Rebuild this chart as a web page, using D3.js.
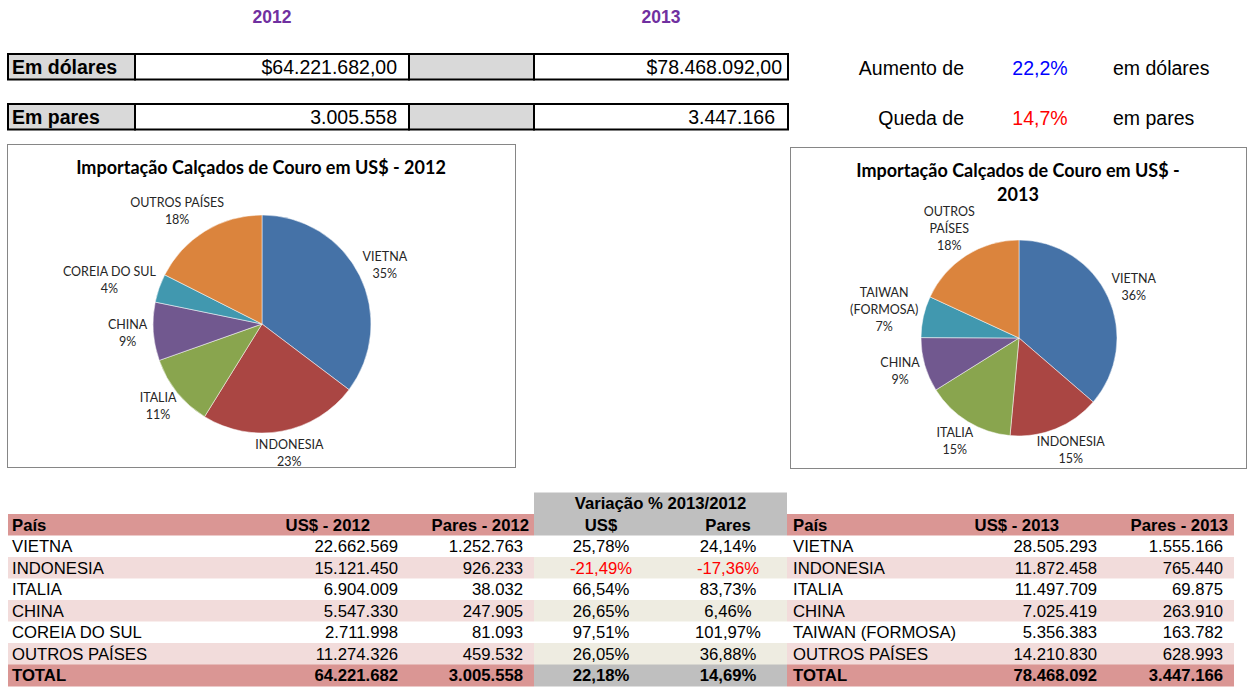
<!DOCTYPE html>
<html>
<head>
<meta charset="utf-8">
<script src="https://cdn.jsdelivr.net/npm/d3@7"></script>
<style>
  body { margin: 0; background: #fff; }
  svg { display: block; font-family: "Liberation Sans", Arial, sans-serif; }
</style>
</head>
<body>
<svg id="chart" width="1248" height="687"></svg>
<script>
// ---- data ----
const years = ['2012', '2013'];
const rowLabels = ['Em dólares', 'Em pares'];
const totalsUsd = [64221682, 78468092];
const totalsPares = [3005558, 3447166];

const summaryLeads = ['Aumento de', 'Queda de'];
const summaryValues = ['22,2%', '14,7%'];
const summaryTails = ['em dólares', 'em pares'];

const countries2012 = ['VIETNA', 'INDONESIA', 'ITALIA', 'CHINA', 'COREIA DO SUL', 'OUTROS PAÍSES'];
const usd2012 = [22662569, 15121450, 6904009, 5547330, 2711998, 11274326];
const pares2012 = [1252763, 926233, 38032, 247905, 81093, 459532];

const countries2013 = ['VIETNA', 'INDONESIA', 'ITALIA', 'CHINA', 'TAIWAN (FORMOSA)', 'OUTROS PAÍSES'];
const usd2013 = [28505293, 11872458, 11497709, 7025419, 5356383, 14210830];
const pares2013 = [1555166, 765440, 69875, 263910, 163782, 628993];

const varUsd = [25.78, -21.49, 66.54, 26.65, 97.51, 26.05];
const varPares = [24.14, -17.36, 83.73, 6.46, 101.97, 36.88];
const varUsdTotal = 22.18;
const varParesTotal = 14.69;

const pieTitles = ['Importação Calçados de Couro em US$ - 2012', 'Importação Calçados de Couro em US$ - 2013'];

// ---- setup ----
const svg = d3.select('#chart');
const br = d3.formatLocale({ decimal: ',', thousands: '.', grouping: [3], currency: ['$', ''], minus: '-' });
const fmtInt = br.format(',d');
const fmtMoney = br.format('$,.2f');
const fmtPct = (v) => br.format('.2f')(v) + '%';
const pieColors = ['#4572A7', '#AA4643', '#89A54E', '#71588F', '#4198AF', '#DB843D'];

// whole percents that still add up to 100 (largest remainder)
function roundedShares(values) {
  const total = d3.sum(values);
  const raw = values.map((v) => v / total * 100);
  const out = raw.map(Math.floor);
  let left = 100 - d3.sum(out);
  const order = d3.range(raw.length).sort((a, b) => (raw[b] - out[b]) - (raw[a] - out[a]));
  for (let k = 0; k < left; k++) out[order[k]] += 1;
  return out;
}

// ---- year headings ----
svg.selectAll('text.year').data(years).join('text').classed('year', true)
  .attr('x', (d, i) => [272, 661][i])
  .attr('y', 23)
  .attr('text-anchor', 'middle')
  .style('font-weight', 'bold')
  .style('font-size', '17.5px')
  .style('fill', '#7030A0')
  .text((d) => d);

// ---- summary boxes ----
const boxCols = [8, 135, 409, 534, 788];
const boxTops = [54, 104];
const boxH = 25.5;
const boxFills = ['#D9D9D9', '#fff', '#D9D9D9', '#fff'];
const boxRightPad = [[12, 6], [12, 13]];

rowLabels.forEach((label, r) => {
  const g = svg.append('g');
  const y = boxTops[r];
  for (let c = 0; c < 4; c++) {
    g.append('rect')
      .attr('x', boxCols[c]).attr('y', y)
      .attr('width', boxCols[c + 1] - boxCols[c]).attr('height', boxH)
      .style('fill', boxFills[c]).style('stroke', '#000').style('stroke-width', 2);
  }
  g.append('text').attr('x', 12).attr('y', y + 20)
    .style('font-weight', 'bold').style('font-size', '19.5px').text(label);
  const vals = r === 0 ? totalsUsd.map(fmtMoney) : totalsPares.map(fmtInt);
  [1, 3].forEach((c, k) => {
    g.append('text').attr('x', boxCols[c + 1] - boxRightPad[r][k]).attr('y', y + 20)
      .attr('text-anchor', 'end').style('font-size', '19.5px').text(vals[k]);
  });

  g.append('text').attr('x', 964).attr('y', y + 21).attr('text-anchor', 'end')
    .style('font-size', '19.5px').text(summaryLeads[r]);
  g.append('text').attr('x', 1040).attr('y', y + 21).attr('text-anchor', 'middle')
    .style('font-size', '19.5px').style('fill', r === 0 ? '#0000FF' : '#FF0000').text(summaryValues[r]);
  g.append('text').attr('x', 1113).attr('y', y + 21)
    .style('font-size', '19.5px').text(summaryTails[r]);
});

// ---- pie charts ----
function wrapWords(str, maxW, measure) {
  const words = str.split(' ');
  const lines = [];
  let cur = '';
  words.forEach((w) => {
    const test = cur ? cur + ' ' + w : w;
    if (cur && measure(test) > maxW) { lines.push(cur); cur = w; } else { cur = test; }
  });
  lines.push(cur);
  return lines;
}

const measurer = svg.append('text').style('visibility', 'hidden');
function textWidth(str, font) {
  measurer.attr('style', 'visibility:hidden;' + font).text(str);
  return measurer.node().getComputedTextLength();
}

const pieFont = 'font-family:Lato,"Open Sans",sans-serif;';

function drawPie(cfg) {
  const { frame, center, radius, names, values, title, titleWrap, labelWrap } = cfg;
  const g = svg.append('g');
  g.append('rect')
    .attr('x', frame[0] + 0.5).attr('y', frame[1] + 0.5)
    .attr('width', frame[2] - frame[0]).attr('height', frame[3] - frame[1])
    .style('fill', '#fff').style('stroke', '#868686').style('stroke-width', 1);

  const titleFont = pieFont + 'font-weight:bold;font-size:18px;';
  const tLines = wrapWords(title, titleWrap, (s) => textWidth(s, titleFont));
  const cx = (frame[0] + frame[2]) / 2;
  g.append('text').attr('style', titleFont).attr('text-anchor', 'middle').style('fill', '#000')
    .selectAll('tspan').data(tLines).join('tspan')
    .attr('x', cx).attr('y', (d, i) => frame[1] + 30 + i * 24)
    .text((d) => d);

  const shares = roundedShares(values);
  const pie = d3.pie().sort(null).value((d) => d.value);
  const arcs = pie(names.map((n, i) => ({ name: n, value: values[i], share: shares[i] })));
  const arc = d3.arc().innerRadius(0).outerRadius(radius);
  const pg = g.append('g').attr('transform', `translate(${center[0]},${center[1]})`);

  pg.selectAll('path').data(arcs).join('path')
    .attr('d', arc)
    .style('fill', (d, i) => pieColors[i])
    .style('stroke', '#fff').style('stroke-width', 0.5);

  const labelFont = pieFont + 'font-size:12.5px;';
  const lineH = 17;
  const gap = 6;
  arcs.forEach((a) => {
    const lines = wrapWords(a.data.name, labelWrap, (s) => textWidth(s, labelFont));
    lines.push(a.data.share + '%');
    const w = d3.max(lines, (s) => textWidth(s, labelFont));
    const h = lines.length * lineH;
    const ang = (a.startAngle + a.endAngle) / 2;
    const sx = Math.sin(ang);
    const cy = -Math.cos(ang);
    const lx = (radius + gap) * sx + sx * w / 2;
    const ly = (radius + gap) * cy + cy * h / 2;
    pg.append('text').attr('style', labelFont).attr('text-anchor', 'middle').style('fill', '#262626')
      .selectAll('tspan').data(lines).join('tspan')
      .attr('x', lx).attr('y', (d, i) => ly - h / 2 + 12.5 + i * lineH)
      .text((d) => d);
  });
}

drawPie({
  frame: [7, 144, 515, 467], center: [262, 324], radius: 109,
  names: countries2012, values: usd2012, title: pieTitles[0], titleWrap: 460, labelWrap: 200,
});
drawPie({
  frame: [790, 147, 1246, 468], center: [1019, 338], radius: 98,
  names: countries2013, values: usd2013, title: pieTitles[1], titleWrap: 345, labelWrap: 62,
});

// ---- table ----
const tTop = 514;
const rowH = 21.5;
const leftX = [8, 534];
const midX = [534, 787];
const rightX = [787, 1234];
const pink = '#DA9694';
const lightPink = '#F2DCDB';
const beige = '#EEECE1';
const gray = '#BFBFBF';
const nRows = countries2012.length;

const tg = svg.append('g').style('font-size', '16.7px');

// band fills
function band(x, y, fill) {
  tg.append('rect').attr('x', x[0]).attr('y', y).attr('width', x[1] - x[0]).attr('height', rowH + 0.5)
    .style('fill', fill);
}
band(midX, tTop - rowH, gray);
band(leftX, tTop, pink);
band(midX, tTop, gray);
band(rightX, tTop, pink);
d3.range(nRows).forEach((i) => {
  const y = tTop + (i + 1) * rowH;
  band(leftX, y, i % 2 ? lightPink : '#fff');
  band(midX, y, i % 2 ? beige : '#fff');
  band(rightX, y, i % 2 ? lightPink : '#fff');
});
const totY = tTop + (nRows + 1) * rowH;
band(leftX, totY, pink);
band(midX, totY, gray);
band(rightX, totY, pink);

function cellText(x, rowIdx, str, anchor, opts = {}) {
  tg.append('text')
    .attr('x', x).attr('y', tTop + rowIdx * rowH + rowH - 5)
    .attr('text-anchor', anchor)
    .style('font-weight', opts.bold ? 'bold' : 'normal')
    .style('fill', opts.color || '#000')
    .text(str);
}

// headers
cellText(660.5, -1, 'Variação % 2013/2012', 'middle', { bold: true });
cellText(12, 0, 'País', 'start', { bold: true });
cellText(370, 0, 'US$ - 2012', 'end', { bold: true });
cellText(529, 0, 'Pares - 2012', 'end', { bold: true });
cellText(601, 0, 'US$', 'middle', { bold: true });
cellText(728, 0, 'Pares', 'middle', { bold: true });
cellText(793, 0, 'País', 'start', { bold: true });
cellText(1059, 0, 'US$ - 2013', 'end', { bold: true });
cellText(1228, 0, 'Pares - 2013', 'end', { bold: true });

// body rows
d3.range(nRows).forEach((i) => {
  const r = i + 1;
  cellText(12, r, countries2012[i], 'start');
  cellText(398, r, fmtInt(usd2012[i]), 'end');
  cellText(523, r, fmtInt(pares2012[i]), 'end');
  cellText(601, r, fmtPct(varUsd[i]), 'middle', { color: varUsd[i] < 0 ? '#FF0000' : '#000' });
  cellText(728, r, fmtPct(varPares[i]), 'middle', { color: varPares[i] < 0 ? '#FF0000' : '#000' });
  cellText(793, r, countries2013[i], 'start');
  cellText(1097, r, fmtInt(usd2013[i]), 'end');
  cellText(1223, r, fmtInt(pares2013[i]), 'end');
});

// totals
const tr = nRows + 1;
cellText(12, tr, 'TOTAL', 'start', { bold: true });
cellText(398, tr, fmtInt(d3.sum(usd2012)), 'end', { bold: true });
cellText(523, tr, fmtInt(d3.sum(pares2012)), 'end', { bold: true });
cellText(601, tr, fmtPct(varUsdTotal), 'middle', { bold: true });
cellText(728, tr, fmtPct(varParesTotal), 'middle', { bold: true });
cellText(793, tr, 'TOTAL', 'start', { bold: true });
cellText(1097, tr, fmtInt(d3.sum(usd2013)), 'end', { bold: true });
cellText(1223, tr, fmtInt(d3.sum(pares2013)), 'end', { bold: true });

measurer.remove();
</script>
</body>
</html>
